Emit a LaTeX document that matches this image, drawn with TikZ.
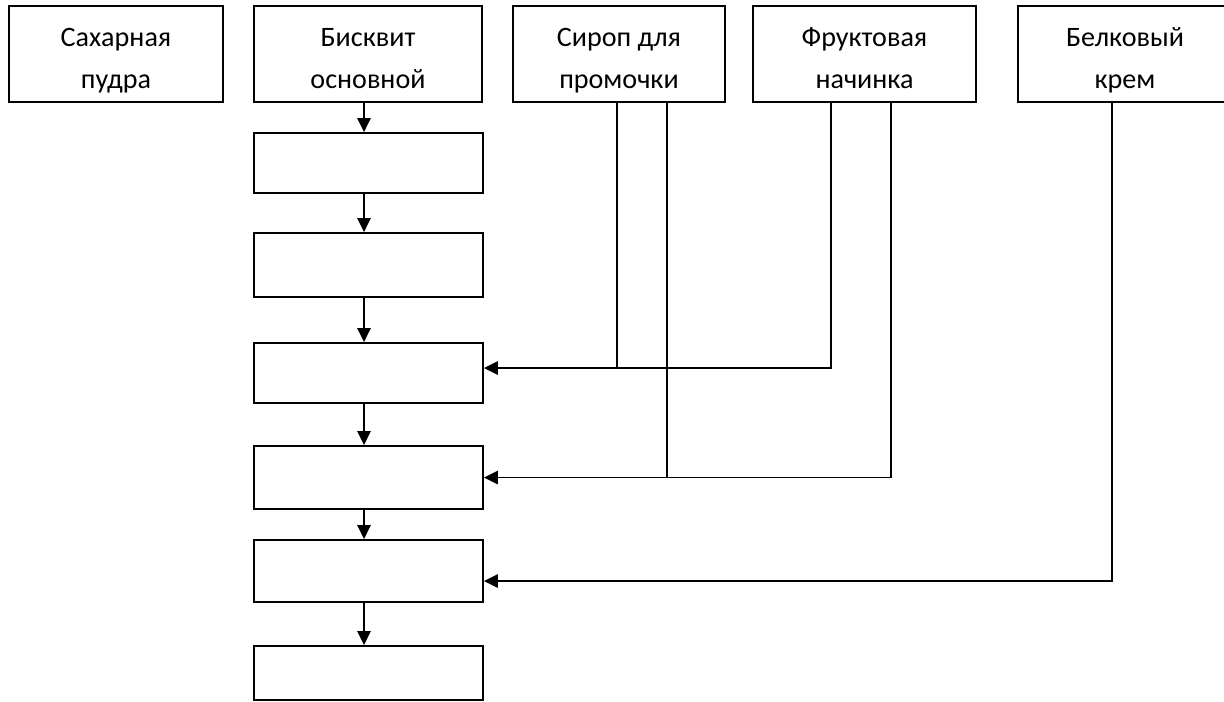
\documentclass[tikz,border=0pt]{standalone}
\usepackage{fontspec}
\setmainfont{Carlito}
\usetikzlibrary{arrows.meta}
\newcommand{\twolines}[2]{\rule{0pt}{23pt}#1\\#2\strut}

\begin{document}
\begin{tikzpicture}[x=0.02cm, y=-0.02cm,
		inbox/.style={draw, line width=1.1pt, align=center, inner sep=0pt,
			minimum height=1.88cm, font=\fontsize{16}{24}\selectfont},
		stepbox/.style={draw, line width=1.1pt, minimum width=4.58cm, inner sep=0pt},
		arr/.style={line width=0.9pt, -{Triangle[length=2.8mm, width=2.7mm]}},
		feed/.style={line width=0.9pt}]
			%%%%% START %%%%%
			
			\useasboundingbox (0, 0) rectangle (1224, 701);
			
			% top row
			\node[inbox, minimum width=4.28cm] (sugar) at (116, 54) {\twolines{Сахарная}{пудра}};
			\node[inbox, minimum width=4.56cm] (bisc) at (368, 54) {\twolines{Бисквит}{основной}};
			\node[inbox, minimum width=4.24cm] (syrup) at (619, 54) {\twolines{Сироп для}{промочки}};
			\node[inbox, minimum width=4.46cm] (fruit) at (864.5, 54) {\twolines{Фруктовая}{начинка}};
			\node[inbox, minimum width=4.28cm] (cream) at (1125, 54) {\twolines{Белковый}{крем}};
			
			% process chain
			\node[stepbox, minimum height=1.20cm] (s1) at (368.5, 163) {};
			\node[stepbox, minimum height=1.28cm] (s2) at (368.5, 265) {};
			\node[stepbox, minimum height=1.20cm] (s3) at (368.5, 373) {};
			\node[stepbox, minimum height=1.26cm] (s4) at (368.5, 477.5) {};
			\node[stepbox, minimum height=1.24cm] (s5) at (368.5, 571) {};
			\node[stepbox, minimum height=1.08cm] (s6) at (368.5, 673) {};
			
			\coordinate (mid) at (364, 0);
			\draw[arr] (bisc.south -| mid) -- (s1.north -| mid);
			\draw[arr] (s1.south -| mid) -- (s2.north -| mid);
			\draw[arr] (s2.south -| mid) -- (s3.north -| mid);
			\draw[arr] (s3.south -| mid) -- (s4.north -| mid);
			\draw[arr] (s4.south -| mid) -- (s5.north -| mid);
			\draw[arr] (s5.south -| mid) -- (s6.north -| mid);
			
			% feed lines
			\coordinate (sy1) at (617, 0);
			\coordinate (sy2) at (667, 0);
			\coordinate (fr1) at (831, 0);
			\coordinate (fr2) at (891, 0);
			\coordinate (cr1) at (1112, 0);
			\coordinate (in3) at ([yshift=0.1cm]s3.east);
			\coordinate (in4) at (s4.east);
			\coordinate (in5) at ([yshift=-0.2cm]s5.east);
			
			\draw[arr] (fruit.south -| fr1) |- (in3);
			\draw[feed] (syrup.south -| sy1) -- (sy1 |- in3);
			
			\draw[arr] (fruit.south -| fr2) |- (in4);
			\draw[feed] (syrup.south -| sy2) -- (sy2 |- in4);
			
			\draw[arr] (cream.south -| cr1) |- (in5);
			
			%%%%% END %%%%%
\end{tikzpicture}
\end{document}
